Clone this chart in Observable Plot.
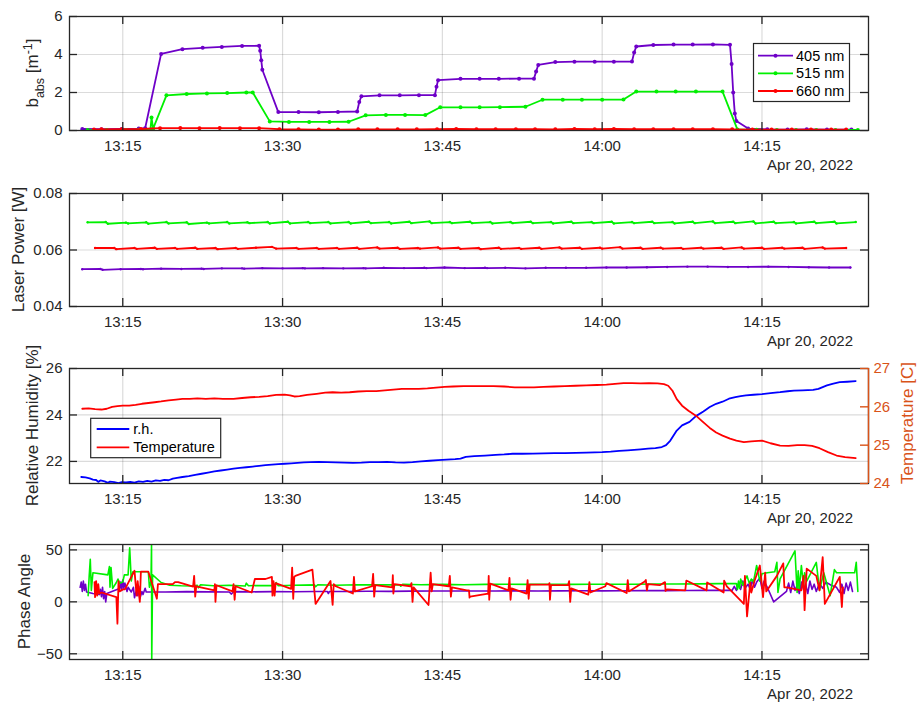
<!DOCTYPE html>
<html><head><meta charset="utf-8">
<script src="https://cdn.jsdelivr.net/npm/d3@7"></script>
<script src="https://cdn.jsdelivr.net/npm/@observablehq/plot@0.6"></script>
<style>
body{margin:0;background:#fff;}
#fig{position:relative;width:921px;height:704px;background:#fff;}
#fig svg{position:absolute;left:0;overflow:visible;}
</style></head><body><div id="fig"></div>
<script>
// ---------- data (time = minutes after 13:00 on Apr 20, 2022) ----------
const xTickMinutes = [15, 30, 45, 60, 75];
const dateLabel = "Apr 20, 2022";
const seriesNames = ["405 nm", "515 nm", "660 nm"];
const envNames = ["r.h.", "Temperature"];

const b405 = [[11.2,0.08],[13.0,0.07],[14.9,0.08],[16.5,0.1],[17.1,0.12],[18.6,4.03],[20.6,4.28],[22.5,4.35],[24.3,4.4],[26.2,4.45],[27.8,4.46],[27.9,4.2],[28.0,3.7],[28.1,3.2],[29.6,0.97],[31.5,0.97],[33.4,0.96],[35.2,0.98],[37.0,1.0],[37.2,1.5],[37.4,1.8],[39.1,1.85],[41.0,1.85],[42.8,1.86],[44.3,1.86],[44.45,2.3],[44.6,2.65],[46.7,2.72],[48.5,2.72],[50.3,2.72],[52.2,2.73],[53.6,2.73],[53.8,3.1],[54.0,3.45],[55.6,3.6],[57.4,3.62],[59.3,3.62],[61.1,3.62],[62.8,3.63],[63.0,4.1],[63.2,4.42],[64.8,4.5],[66.7,4.52],[68.5,4.52],[70.4,4.53],[72.0,4.51],[72.15,3.5],[72.3,2.0],[72.45,0.9],[72.6,0.5],[73.7,0.1],[75.5,0.06],[77.4,0.05],[79.2,0.06],[81.1,0.05],[83.4,0.05]];
const b515 = [[11.7,0.02],[13.5,0.03],[15.3,0.03],[16.5,0.04],[17.6,0.05],[17.7,0.68],[17.85,0.1],[19.1,1.85],[21.0,1.92],[22.9,1.95],[24.8,1.97],[26.6,2.0],[27.2,2.0],[28.8,0.48],[30.6,0.45],[32.5,0.45],[34.4,0.45],[36.2,0.46],[37.8,0.8],[39.7,0.82],[41.5,0.82],[43.4,0.81],[44.8,1.22],[46.7,1.22],[48.5,1.22],[50.4,1.23],[52.8,1.25],[54.4,1.62],[56.3,1.62],[58.1,1.62],[60.0,1.62],[62.0,1.63],[63.2,2.05],[65.1,2.05],[66.9,2.05],[68.8,2.05],[71.3,2.05],[72.7,0.05],[74.5,0.04],[76.4,0.03],[78.2,0.03],[80.1,0.03],[81.9,0.03],[84.0,0.03]];
const b660 = [[12.3,0.05],[13.0,0.06],[14.9,0.07],[16.7,0.08],[18.5,0.12],[20.4,0.13],[22.2,0.12],[24.1,0.13],[26.0,0.12],[27.8,0.12],[29.7,0.07],[31.5,0.06],[33.4,0.05],[35.2,0.05],[37.1,0.06],[38.9,0.06],[40.8,0.06],[42.6,0.06],[44.5,0.07],[46.3,0.08],[48.2,0.07],[50.0,0.07],[51.9,0.07],[53.7,0.07],[55.6,0.06],[57.4,0.08],[59.3,0.07],[61.1,0.08],[63.0,0.07],[64.8,0.07],[66.7,0.07],[68.5,0.07],[70.4,0.07],[72.2,0.06],[74.1,0.05],[75.9,0.05],[77.8,0.05],[79.6,0.05],[81.5,0.05],[82.9,0.05]];

const lp515 = [[11.7,.0698],[13.4,.0699],[13.6,.0693],[15.3,.0697],[15.5,.0694],[17.2,.0698],[17.4,.0693],[19.1,.0699],[19.3,.0694],[21.0,.0698],[21.2,.0692],[22.9,.0697],[23.1,.0694],[24.8,.0699],[25.0,.0694],[26.7,.0698],[26.9,.0695],[28.6,.0699],[28.8,.0694],[30.5,.0700],[30.7,.0694],[32.4,.0699],[32.6,.0695],[34.3,.0699],[34.5,.0694],[36.2,.0699],[36.4,.0694],[38.1,.0700],[38.3,.0695],[40.0,.0699],[40.2,.0694],[41.9,.0700],[42.1,.0695],[43.8,.0701],[44.0,.0695],[45.7,.0699],[45.9,.0695],[47.6,.0700],[47.8,.0695],[49.5,.0699],[49.7,.0694],[51.4,.0699],[51.6,.0695],[53.3,.0700],[53.5,.0695],[55.2,.0699],[55.4,.0694],[57.1,.0700],[57.3,.0695],[59.0,.0699],[59.2,.0695],[60.9,.0700],[61.1,.0694],[62.8,.0699],[63.0,.0695],[64.7,.0700],[64.9,.0695],[66.6,.0699],[66.8,.0694],[68.5,.0700],[68.7,.0695],[70.4,.0701],[70.6,.0695],[72.3,.0700],[72.5,.0695],[74.2,.0701],[74.4,.0694],[76.1,.0700],[76.3,.0695],[78.0,.0699],[78.2,.0694],[79.9,.0700],[80.1,.0695],[81.8,.0700],[82.0,.0694],[83.8,.0699]];
const lp660 = [[12.4,.0607],[14.2,.0607],[14.4,.0603],[16.1,.0607],[16.3,.0604],[18.0,.0608],[18.2,.0604],[19.9,.0607],[20.1,.0604],[21.8,.0608],[22.0,.0604],[23.7,.0607],[23.9,.0603],[25.6,.0607],[25.8,.0604],[27.5,.0608],[29.0,.0611],[29.4,.0605],[31.3,.0607],[31.5,.0604],[33.2,.0607],[33.4,.0604],[35.1,.0607],[35.3,.0604],[37.0,.0608],[37.2,.0604],[38.9,.0609],[39.1,.0605],[40.8,.0608],[41.0,.0604],[42.7,.0607],[42.9,.0605],[44.6,.0609],[44.8,.0605],[46.5,.0608],[46.7,.0604],[48.4,.0607],[48.6,.0603],[50.3,.0608],[50.5,.0604],[52.2,.0607],[52.4,.0604],[54.1,.0608],[54.3,.0604],[56.0,.0609],[56.2,.0605],[57.9,.0608],[58.1,.0604],[59.8,.0608],[60.0,.0605],[61.7,.0610],[61.9,.0605],[63.6,.0608],[63.8,.0604],[65.5,.0608],[65.7,.0605],[67.4,.0607],[67.6,.0604],[69.3,.0608],[69.5,.0605],[71.2,.0608],[71.4,.0604],[73.1,.0609],[73.3,.0605],[75.0,.0608],[75.2,.0604],[76.9,.0608],[77.1,.0605],[78.8,.0608],[79.0,.0604],[80.7,.0609],[80.9,.0605],[82.9,.0607]];
const lp405 = [[11.2,.0532],[12.9,.0533],[13.1,.0530],[14.8,.0532],[16.7,.0533],[16.9,.0532],[18.6,.0534],[20.5,.0533],[22.4,.0534],[22.6,.0533],[24.3,.0535],[26.2,.0535],[26.4,.0534],[28.1,.0536],[30.0,.0535],[31.9,.0536],[32.1,.0535],[33.8,.0536],[35.7,.0535],[37.6,.0536],[37.8,.0535],[39.5,.0537],[41.4,.0536],[43.3,.0537],[43.5,.0536],[45.2,.0538],[47.1,.0536],[49.0,.0537],[49.2,.0536],[50.9,.0537],[52.8,.0535],[54.7,.0537],[56.6,.0537],[58.5,.0537],[60.4,.0538],[62.3,.0538],[64.2,.0539],[66.1,.0540],[68.0,.0541],[69.9,.0541],[71.8,.0540],[73.7,.0540],[75.6,.0541],[77.5,.0540],[79.4,.0539],[81.3,.0538],[83.3,.0538]];

const rh = [[11.1,21.33],[11.5,21.31],[11.9,21.27],[12.2,21.22],[12.5,21.2],[12.7,21.12],[12.9,21.18],[13.3,21.14],[13.6,21.08],[13.8,21.13],[14.2,21.11],[14.6,21.07],[14.9,21.11],[15.3,21.1],[15.7,21.12],[16.1,21.09],[16.5,21.14],[16.9,21.12],[17.3,21.16],[17.7,21.13],[18.1,21.18],[18.5,21.16],[18.9,21.21],[19.3,21.19],[19.7,21.26],[20.1,21.29],[20.6,21.33],[21.2,21.37],[21.8,21.42],[22.4,21.47],[23.0,21.52],[23.6,21.57],[24.2,21.61],[24.8,21.65],[25.4,21.69],[26.0,21.72],[26.6,21.75],[27.2,21.78],[27.8,21.81],[28.4,21.84],[29.0,21.86],[29.6,21.88],[30.2,21.9],[30.8,21.92],[31.4,21.94],[32.0,21.96],[32.6,21.97],[33.4,21.98],[34.2,21.97],[35.0,21.96],[35.8,21.95],[36.6,21.94],[37.4,21.95],[38.2,21.97],[39.0,21.97],[39.8,21.98],[40.6,21.96],[41.4,21.95],[42.2,21.97],[43.0,22.0],[43.8,22.03],[44.6,22.06],[45.4,22.08],[46.2,22.1],[46.7,22.12],[47.2,22.2],[48.0,22.23],[49.0,22.25],[50.0,22.28],[50.8,22.3],[51.6,22.33],[52.5,22.33],[53.5,22.34],[54.5,22.35],[55.5,22.36],[56.5,22.36],[57.5,22.37],[58.5,22.38],[59.3,22.39],[60.0,22.4],[60.8,22.42],[61.6,22.45],[62.4,22.48],[63.0,22.5],[63.6,22.52],[64.3,22.55],[65.0,22.57],[65.6,22.62],[66.0,22.7],[66.4,22.9],[66.7,23.12],[67.0,23.33],[67.5,23.55],[68.2,23.7],[68.8,23.95],[69.5,24.15],[70.1,24.34],[70.7,24.48],[71.3,24.57],[71.9,24.7],[72.5,24.77],[73.0,24.81],[73.5,24.84],[74.2,24.87],[75.0,24.9],[75.8,24.94],[76.7,24.98],[77.4,25.02],[78.0,25.05],[78.8,25.06],[79.8,25.08],[80.3,25.12],[80.7,25.2],[81.1,25.27],[81.7,25.35],[82.3,25.41],[83.0,25.43],[83.8,25.46]];
const tempC = [[11.2,25.95],[11.8,25.96],[12.4,25.94],[13.0,25.93],[13.5,25.95],[14.0,26.0],[14.5,26.02],[15.0,26.03],[15.6,26.03],[16.2,26.05],[16.8,26.08],[17.4,26.1],[18.0,26.12],[18.6,26.14],[19.3,26.17],[20.0,26.19],[20.6,26.21],[21.3,26.21],[22.0,26.22],[22.8,26.21],[23.6,26.22],[24.4,26.21],[25.4,26.21],[26.2,26.23],[27.0,26.25],[27.8,26.26],[28.6,26.28],[29.4,26.31],[30.2,26.32],[30.7,26.3],[31.1,26.27],[31.6,26.28],[32.3,26.31],[33.2,26.34],[34.0,26.37],[34.7,26.38],[35.5,26.37],[36.3,26.38],[37.1,26.4],[37.9,26.41],[38.8,26.41],[39.6,26.43],[40.4,26.45],[41.2,26.47],[42.0,26.47],[42.8,26.47],[43.6,26.48],[44.4,26.5],[45.2,26.52],[46.0,26.53],[47.0,26.54],[48.0,26.54],[49.0,26.54],[49.8,26.54],[50.8,26.53],[51.8,26.51],[52.8,26.51],[53.6,26.51],[54.5,26.52],[55.5,26.53],[56.5,26.54],[57.5,26.55],[58.5,26.56],[59.5,26.57],[60.4,26.58],[61.2,26.6],[62.0,26.62],[62.8,26.62],[63.6,26.61],[64.4,26.62],[65.2,26.61],[65.8,26.59],[66.2,26.55],[66.6,26.42],[67.0,26.2],[67.5,26.03],[68.1,25.9],[68.8,25.77],[69.4,25.62],[70.1,25.45],[70.7,25.33],[71.3,25.25],[72.0,25.17],[72.6,25.12],[73.3,25.08],[74.0,25.1],[75.0,25.12],[75.8,25.05],[76.7,24.99],[77.5,24.98],[78.3,25.0],[79.0,25.0],[79.7,24.98],[80.4,24.92],[81.2,24.82],[82.0,24.73],[82.8,24.69],[83.8,24.66]];

const ph405 = [[11.0,14],[11.1,19],[11.2,10],[11.3,20],[11.4,11],[11.5,17],[11.6,9.5],[12.2,8],[12.8,7],[12.9,12],[13.0,5],[13.1,14],[13.2,3],[13.3,10],[13.4,0],[13.5,8],[14.7,12.8],[14.8,19],[14.9,11],[15.0,21],[15.1,13],[15.2,18],[15.4,10],[15.5,14],[15.8,9.5],[16.0,14],[16.1,4],[16.3,12],[16.4,6],[16.5,15],[16.6,3],[16.8,10],[16.9,7],[17.1,13],[17.2,9.5],[19,9.5],[21,9.8],[23,9.6],[25,9.5],[25.2,7.5],[25.4,9.8],[27,9.6],[29,9.8],[31,9.7],[33,10],[34.2,10],[34.3,8],[34.4,10],[36,10],[38,10.2],[40,10.1],[42,10.3],[44,10.4],[46,10.5],[48,10.4],[50,10.5],[52,10.6],[54,10.5],[56,10.6],[58,10.7],[60,10.6],[62,10.7],[64,10.8],[66,10.8],[68,10.9],[70,11],[72.2,11],[72.4,15],[72.6,11],[72.8,18],[73.0,12],[73.2,20],[73.4,13],[73.7,17],[73.9,12],[74.1,21],[74.3,14],[74.5,19],[74.8,23],[75.0,13],[75.2,20],[75.5,14],[76.1,0],[77.3,10],[77.5,18],[77.7,9],[77.9,20],[78.1,11],[78.3,16],[78.5,8],[78.7,19],[78.9,12],[79.1,17],[79.3,8],[79.5,20],[79.7,12],[79.9,17],[80.1,10],[80.4,18],[80.7,13],[81.0,19],[81.5,16],[82.0,14],[82.3,9],[82.5,17],[82.7,8],[82.9,18],[83.1,11],[83.3,19],[83.5,10]];
const ph515 = [[11.75,6],[11.85,25],[11.95,41],[12.05,11],[12.2,28],[13.6,26],[13.75,34],[13.8,14],[13.9,33],[14.05,13],[14.4,18.6],[14.55,22],[14.7,18],[15.0,19],[15.15,26],[15.5,26],[15.65,52],[15.8,20],[15.95,29],[17.4,29],[17.5,14],[17.65,20],[17.7,55],[17.72,-56],[17.8,26],[18.6,18.6],[19.4,16],[20.5,15.5],[21.5,15.3],[22.0,16],[22.1,13.5],[22.3,16.5],[23.5,15.5],[25,16],[26.5,15.2],[26.6,18],[26.8,15.5],[28,15.8],[29.3,15.6],[29.4,18.5],[29.6,15.5],[31,16],[33,16.3],[33.1,14.5],[33.3,16.5],[35,16],[37,16.5],[39,16.3],[41,16.5],[41.1,15],[41.3,17],[43,16.5],[45,16.8],[47,16.5],[49,16.8],[51,17],[53,16.8],[55,17],[57,16.8],[59,17],[61,17],[63,17],[65,17.2],[67,17.2],[69,17.3],[71,17.5],[72.6,17.5],[72.7,12],[72.8,20],[72.9,13],[73.0,22],[73.2,16],[73.4,21],[73.6,25],[73.8,18],[74.0,22],[74.2,19],[74.5,35],[74.8,20],[75.0,27],[75.5,28],[76.2,29],[76.4,38],[76.5,9],[76.7,22],[78.1,49],[78.3,9],[78.4,30],[78.5,12],[78.7,35],[78.9,15],[79.0,28],[79.2,20],[80.1,38],[80.4,11],[80.8,28],[81.4,6],[81.8,31],[82.0,28],[83.7,28],[83.85,38],[84.0,10]];
const ph660 = [[12.35,19],[12.4,4.5],[12.5,20],[12.6,6],[12.7,17],[12.8,8],[13.0,9],[14.4,4.5],[14.5,-21],[14.6,20],[14.7,10],[15.0,12],[15.2,12],[16.1,30],[16.3,6],[16.4,20],[16.6,0],[16.7,29],[17.4,29],[18.2,3],[18.3,17],[19.7,17],[19.9,19],[20.2,19],[21.6,14.7],[21.7,25],[21.8,5],[21.9,15],[23.6,11],[23.65,17],[23.7,0],[23.8,16],[25.3,10],[25.4,17],[25.5,2],[25.6,15],[27.1,9],[27.4,22],[28.4,22],[29.0,24],[29.05,6],[29.15,20],[29.25,6],[29.35,18],[30.8,12.5],[30.9,33],[31.0,3],[31.1,24],[31.2,25],[32.8,31],[33.1,-2],[34.5,20],[34.7,-3],[34.8,17],[35.0,15],[36.6,8],[36.7,24],[36.8,10],[38.4,15],[38.5,27],[38.6,5],[38.7,16],[40.3,14],[40.35,25.6],[40.4,8],[40.5,17],[42.0,15],[42.1,18],[42.2,0],[42.3,14],[43.7,-3],[43.9,28],[44.0,10],[44.1,17],[45.6,15],[45.7,25],[45.8,5],[45.9,14],[47.3,11],[47.5,11],[47.55,4],[47.6,5],[49.3,8],[49.35,25],[49.4,2],[49.5,17.6],[51.2,11],[51.3,23],[51.4,2],[51.5,13],[52.9,8],[53.0,21],[53.1,3],[53.2,16.6],[55.0,16.6],[55.05,18],[55.1,2],[55.2,16],[56.8,16],[56.9,20],[57.0,0],[57.1,13],[58.7,7],[58.8,19],[58.9,9],[60.3,15],[60.4,18],[62.3,8.5],[62.4,21],[62.5,10],[64.0,19.6],[64.1,21],[64.2,11],[64.3,17],[65.4,16],[65.9,19],[65.95,10.5],[66.1,12],[67.8,11],[67.9,20.5],[69.8,11],[69.85,18.6],[71.4,9],[71.45,20.5],[71.7,15],[73.3,-2],[73.4,25],[73.6,-14],[73.9,18.6],[74.0,9],[74.3,20],[74.8,35],[75.1,4.5],[75.3,28],[75.4,10],[76.4,25],[77.0,37],[77.1,14],[77.3,14],[78.7,11],[78.9,25],[79.0,-8],[79.2,32],[80.1,25],[80.4,11],[80.7,43],[80.9,-2],[82.3,24],[82.5,-5],[82.6,14]];

const babsTicks = [0, 2, 4, 6];
const powerTicks = [0.04, 0.06, 0.08];
const rhTicks = [22, 24, 26];
const tempTicks = [24, 25, 26, 27];
const phaseTicks = [-50, 0, 50];

// ---------- styling ----------
const FONT = '"Liberation Sans", Arial, Helvetica, sans-serif';
const INK = "#262626";
const ORANGE = "#D95319";
const C405 = "#6E00C8", C515 = "#00F000", C660 = "#FF0000", CRH = "#0000FF", CT = "#FF0000";
const LABEL_FS = "17px";

const base = new Date(2022, 3, 20, 13, 0, 0);
const toDate = m => new Date(base.getTime() + m * 60000);
const xDomain = [toDate(10), toDate(85)];
const xTicks = xTickMinutes.map(toDate);
const fmtTime = d3.timeFormat("%H:%M");
const W = 921, ML = 69, MR = 53, IW = W - ML - MR;
const fig = document.getElementById("fig");

function panel(o) {
  const IH = o.height - o.mt - o.mb;
  const marks = [
    Plot.gridX(xTicks, {stroke: "#000", strokeOpacity: 0.14, strokeWidth: 1.2}),
    Plot.gridY(o.yTicks, {stroke: "#000", strokeOpacity: 0.14, strokeWidth: 1.2}),
    ...o.marks,
    Plot.frame({stroke: INK, strokeWidth: 1.3}),
    Plot.ruleX(xTicks, {x: d => d, insetTop: IH - 8, stroke: INK, strokeWidth: 1.3}),
    Plot.ruleX(xTicks, {x: d => d, insetBottom: IH - 8, stroke: INK, strokeWidth: 1.3}),
    Plot.ruleY(o.yTicks, {y: d => d, insetRight: IW - 8, stroke: INK, strokeWidth: 1.3}),
    Plot.axisX(xTicks, {anchor: "bottom", tickSize: 0, tickPadding: 10, tickFormat: fmtTime, label: null, fill: INK}),
    Plot.axisY(o.yTicks, {anchor: "left", tickSize: 0, tickPadding: 7, tickFormat: o.yFmt, label: null, fill: INK}),
    ...(o.extra || [])
  ];
  if (o.mirrorY) marks.push(Plot.ruleY(o.yTicks, {y: d => d, insetLeft: IW - 8, stroke: INK, strokeWidth: 1.3}));
  const svg = Plot.plot({
    width: W, height: o.height,
    marginLeft: ML, marginRight: MR, marginTop: o.mt, marginBottom: o.mb,
    style: {fontFamily: FONT, fontSize: "15px", color: INK, background: "transparent", overflow: "visible"},
    x: {type: "time", domain: xDomain},
    y: {domain: o.yDomain},
    marks
  });
  svg.style.top = o.top + "px";
  fig.appendChild(svg);
  const s = d3.select(svg);
  s.append("text").attr("x", 853).attr("y", o.mt + IH + 40).attr("text-anchor", "end")
    .attr("fill", INK).style("font-size", "15px").text(dateLabel);
  return {s, IH};
}

function yLabel(s, x, y, parts, color) {
  const t = s.append("text").attr("transform", `translate(${x},${y}) rotate(-90)`)
    .attr("text-anchor", "middle").attr("fill", color || INK).style("font-size", LABEL_FS);
  for (const p of parts) {
    const ts = t.append("tspan").text(p.t);
    if (p.dy) ts.attr("dy", p.dy);
    if (p.fs) ts.style("font-size", p.fs);
  }
}

const L = (data, stroke, sw) => Plot.line(data, {x: d => toDate(d[0]), y: d => d[1], stroke, strokeWidth: sw || 1.8, clip: true});
const D = (data, fill, r) => Plot.dot(data, {x: d => toDate(d[0]), y: d => d[1], r, fill, clip: true});

// ---------- panel 1: b_abs ----------
const p1 = panel({top: 0, height: 178, mt: 16, mb: 48, yDomain: [0, 6], yTicks: babsTicks, yFmt: d3.format("d"), mirrorY: true,
  marks: [L(b405, C405), D(b405, C405, 2), L(b515, C515), D(b515, C515, 2), L(b660, C660), D(b660, C660, 2)]});
yLabel(p1.s, 38, 73, [{t: "b"}, {t: "abs", dy: 6, fs: "12.5px"}, {t: " [m", dy: -6}, {t: "-1", dy: -6, fs: "12.5px"}, {t: "]", dy: 6}]);
{
  const g = p1.s.append("g").attr("text-anchor", "start");
  g.append("rect").attr("x", 753.5).attr("y", 43.5).attr("width", 96).attr("height", 58)
    .attr("fill", "#fff").attr("stroke", INK).attr("stroke-width", 1.2);
  const cols = [C405, C515, C660], rows = [55.7, 73.3, 91];
  seriesNames.forEach((n, i) => {
    g.append("line").attr("x1", 758).attr("x2", 793).attr("y1", rows[i]).attr("y2", rows[i]).attr("stroke", cols[i]).attr("stroke-width", 1.8);
    g.append("circle").attr("cx", 775.5).attr("cy", rows[i]).attr("r", 2).attr("fill", cols[i]);
    g.append("text").attr("x", 796).attr("y", rows[i]).attr("dy", "0.35em").attr("text-anchor", "start").attr("fill", "#000").style("font-size", "14.5px").text(n);
  });
}

// ---------- panel 2: laser power ----------
const p2 = panel({top: 178, height: 172, mt: 15, mb: 44, yDomain: [0.04, 0.08], yTicks: powerTicks, yFmt: d3.format(".2f"), mirrorY: true,
  marks: [L(lp515, C515), D(lp515, C515, 1.2), L(lp660, C660), D(lp660, C660, 1.2), L(lp405, C405), D(lp405, C405, 1.2)]});
yLabel(p2.s, 24, 15 + 56.5, [{t: "Laser Power [W]"}]);

// ---------- panel 3: r.h. and temperature (dual axis) ----------
const rhLo = 21.05, rhHi = 26, tLo = 24, tHi = 27;
const tToRh = T => rhLo + (T - tLo) * (rhHi - rhLo) / (tHi - tLo);
const rhToT = v => tLo + (v - rhLo) * (tHi - tLo) / (rhHi - rhLo);
const tempPos = tempTicks.map(tToRh);
const p3 = panel({top: 350, height: 180, mt: 18, mb: 47, yDomain: [rhLo, rhHi], yTicks: rhTicks, yFmt: d3.format("d"), mirrorY: false,
  marks: [
    Plot.line(rh, {x: d => toDate(d[0]), y: d => d[1], stroke: CRH, strokeWidth: 1.8}),
    Plot.line(tempC, {x: d => toDate(d[0]), y: d => tToRh(d[1]), stroke: CT, strokeWidth: 1.8})
  ],
  extra: [
    Plot.ruleX([xDomain[1]], {x: d => d, stroke: ORANGE, strokeWidth: 1.4}),
    Plot.ruleY(tempPos, {y: d => d, insetLeft: IW - 8, stroke: ORANGE, strokeWidth: 1.4}),
    Plot.axisY(tempPos, {anchor: "right", tickSize: 0, tickPadding: 5, tickFormat: d => String(Math.round(rhToT(d))), label: null, fill: ORANGE})
  ]});
yLabel(p3.s, 37.5, 18 + 57.5, [{t: "Relative Humidity [%]"}]);
yLabel(p3.s, 912.5, 18 + 55, [{t: "Temperature [C]"}], ORANGE);
{
  const g = p3.s.append("g").attr("text-anchor", "start");
  g.append("rect").attr("x", 90.7).attr("y", 68.3).attr("width", 130).attr("height", 39.4)
    .attr("fill", "#fff").attr("stroke", INK).attr("stroke-width", 1.2);
  const cols = [CRH, CT], rows = [79, 97.3];
  envNames.forEach((n, i) => {
    g.append("line").attr("x1", 96.7).attr("x2", 129.3).attr("y1", rows[i]).attr("y2", rows[i]).attr("stroke", cols[i]).attr("stroke-width", 1.8);
    g.append("text").attr("x", 133.3).attr("y", rows[i]).attr("dy", "0.35em").attr("text-anchor", "start").attr("fill", "#000").style("font-size", "14.5px").text(n);
  });
}

// ---------- panel 4: phase angle ----------
const p4 = panel({top: 530, height: 174, mt: 14, mb: 45, yDomain: [-55.5, 55.2], yTicks: phaseTicks, yFmt: d3.format("d"), mirrorY: true,
  marks: [L(ph405, C405, 1.6), L(ph515, C515, 1.6), L(ph660, C660, 1.8)]});
yLabel(p4.s, 30, 14 + 57.5, [{t: "Phase Angle"}]);
</script></body></html>
